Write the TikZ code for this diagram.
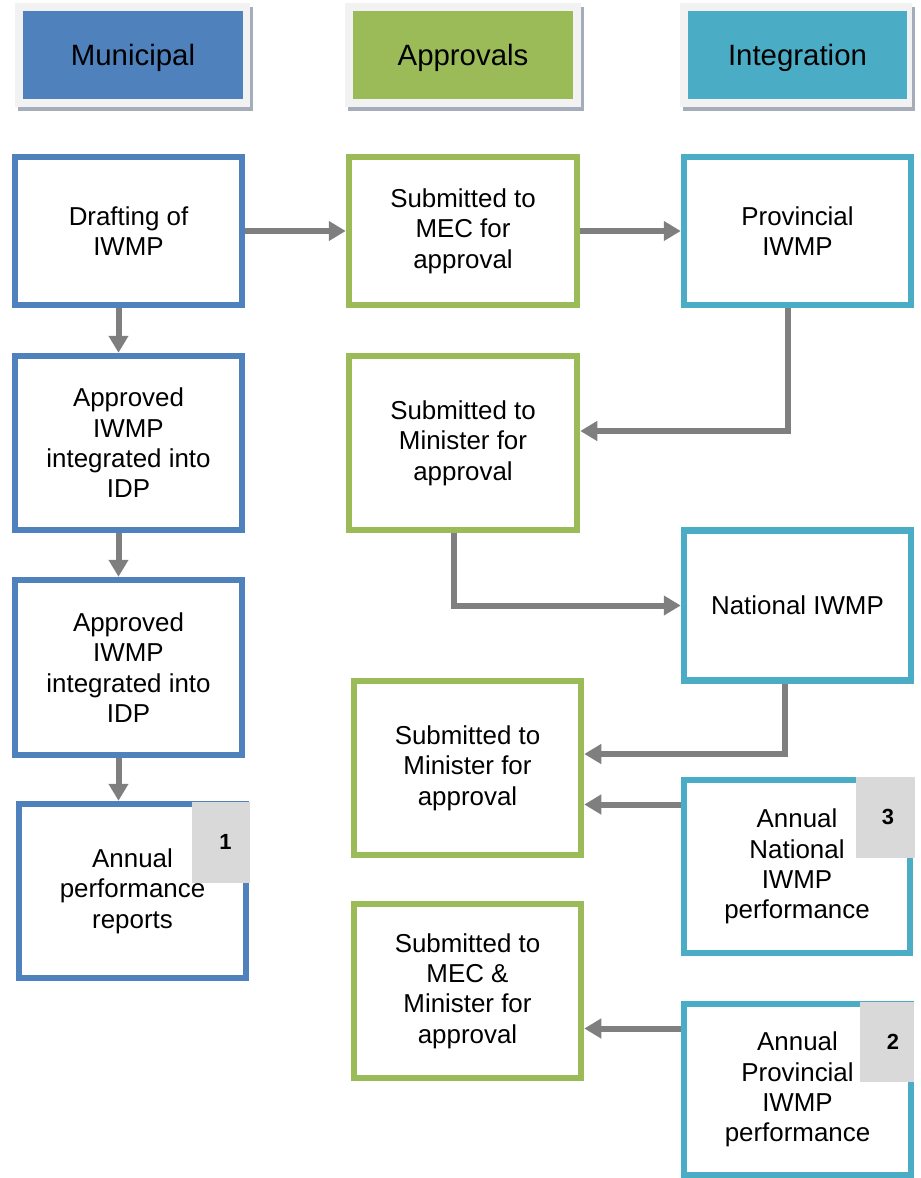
\documentclass[tikz,border=0pt]{standalone}
\usepackage{fontspec}
\setmainfont{Liberation Sans}
\usetikzlibrary{arrows.meta}

\definecolor{munblue}{HTML}{4F81BD}
\definecolor{appgreen}{HTML}{9BBB59}
\definecolor{intteal}{HTML}{4BACC6}
\definecolor{linkgray}{HTML}{7F7F7F}
\definecolor{taggray}{HTML}{D9D9D9}
\definecolor{framegray}{HTML}{F2F2F2}
\definecolor{shadegray}{HTML}{A4ADB9}

\tikzset{
  stagebox/.style={draw=#1, line width=6.5bp, fill=white, minimum width=227bp,
    align=center, inner sep=0pt, font=\fontsize{26}{30.5}\selectfont},
  headbox/.style={fill=#1, minimum width=220bp, minimum height=88bp,
    inner sep=0pt, text depth=0pt, font=\fontsize{29.5}{34}\selectfont},
  tagbox/.style={fill=taggray, inner sep=0pt, text depth=0pt,
    font=\bfseries\fontsize{22}{24}\selectfont},
  link/.style={draw=linkgray, line width=6bp,
    -{Triangle[length=17bp,width=19bp]}},
}

\begin{document}
\begin{tikzpicture}[x=1bp,y=-1bp]
\useasboundingbox (0,0) rectangle (921,1178);

% column headings: shadow, pale frame, coloured panel
\foreach \xl/\xr in {15/250, 345/581, 680/912}{
  \fill[shadegray] (\xl+3,7) rectangle (\xr+3,111);
  \fill[framegray] (\xl,3) rectangle (\xr,107);
}
\node[headbox=munblue]  (hmun) at (133,55)   {Municipal};
\node[headbox=appgreen] (happ) at (463,55)   {Approvals};
\node[headbox=intteal, minimum width=219bp] (hint) at (797.5,55) {Integration};

% municipal column
\node[stagebox=munblue, minimum height=148bp] (m1) at (128.5,231)   {Drafting of\\IWMP};
\node[stagebox=munblue, minimum height=174bp] (m2) at (128.5,443)   {Approved\\IWMP\\integrated into\\IDP};
\node[stagebox=munblue, minimum height=175bp] (m3) at (128.5,667.5) {Approved\\IWMP\\integrated into\\IDP};
\node[stagebox=munblue, minimum height=174bp] (m4) at (132.5,891)   {Annual\\performance\\reports};

% approvals column
\node[stagebox=appgreen, minimum width=228bp, minimum height=148bp] (a1) at (463,231) {Submitted to\\MEC for\\approval};
\node[stagebox=appgreen, minimum width=228bp, minimum height=174bp] (a2) at (463,443) {Submitted to\\Minister for\\approval};
\node[stagebox=appgreen, minimum height=174bp] (a3) at (467.5,768) {Submitted to\\Minister for\\approval};
\node[stagebox=appgreen, minimum height=174bp] (a4) at (467.5,991) {Submitted to\\MEC \&\\Minister for\\approval};

% integration column
\node[stagebox=intteal, minimum height=148bp] (i1) at (797.5,231)    {Provincial\\IWMP};
\node[stagebox=intteal, minimum height=150bp] (i2) at (797.5,605.5)  {National IWMP};
\node[stagebox=intteal, minimum width=226bp, minimum height=173bp] (i3) at (797,866.5) {Annual\\National\\IWMP\\performance};
\node[stagebox=intteal, minimum height=171bp] (i4) at (797.5,1089.5) {Annual\\Provincial\\IWMP\\performance};

% numbered tabs (digit sits right of the tab centre)
\node[tagbox, minimum width=58bp, minimum height=81bp] (t1) at (221,842)    {\hspace*{9bp}1};
\node[tagbox, minimum width=59bp, minimum height=81bp] (t3) at (885.5,817)  {\hspace*{5bp}3};
\node[tagbox, minimum width=54bp, minimum height=80bp] (t2) at (887,1041.5) {\hspace*{12bp}2};

% connectors
\draw[link] ([xshift=-10bp]m1.south) -- ([xshift=-10bp]m1.south |- m2.north);
\draw[link] ([xshift=-10bp]m2.south) -- ([xshift=-10bp]m2.south |- m3.north);
\draw[link] ([xshift=-10bp]m3.south) -- ([xshift=-10bp]m3.south |- m4.north);
\draw[link] (m1.east) -- (a1.west);
\draw[link] (a1.east) -- (i1.west);
\draw[link] ([xshift=-10bp]i1.south) |- ([yshift=12bp]a2.east);
\draw[link] ([xshift=-9bp]a2.south) |- (i2.west);
\draw[link] ([xshift=-13bp]i2.south) |- ([yshift=14bp]a3.east);
\draw[link] ([yshift=62bp]i3.west) -- ([yshift=62bp]i3.west -| a3.east);
\draw[link] ([yshift=61bp]i4.west) -- ([yshift=61bp]i4.west -| a4.east);
\end{tikzpicture}
\end{document}
